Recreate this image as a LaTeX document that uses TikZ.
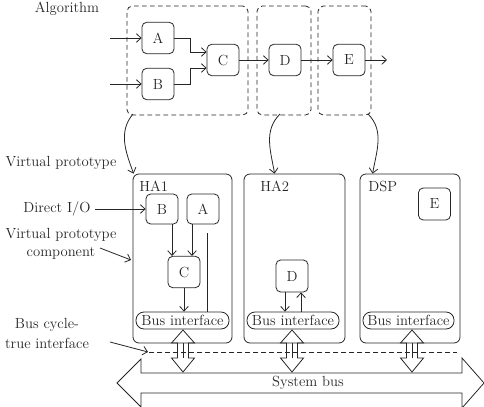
\documentclass[tikz,border=0pt]{standalone}
\usetikzlibrary{arrows.meta}

\begin{document}
\begin{tikzpicture}[x=0.75pt, y=-0.75pt, line width=0.6pt, color=black!85,
    >={Straight Barb[length=3.5pt,width=6.5pt]},
    every node/.style={font=\fontsize{11}{13.5}\selectfont},
    blk/.style={draw, rounded corners=3.5pt, minimum width=24pt,
                minimum height=23.5pt, inner sep=0pt},
    grp/.style={draw, dash pattern=on 3.5pt off 2.5pt, rounded corners=4pt,
                minimum height=81.75pt, inner sep=0pt},
    unit/.style={draw, rounded corners=4.5pt, minimum height=126.75pt, inner sep=0pt},
    bif/.style={draw, rounded corners=6pt, minimum height=12.75pt, inner sep=0pt},
    ttl/.style={anchor=west, inner sep=0pt}]
    \useasboundingbox (0,0) rectangle (484,406);
    % --- algorithm level: data flow A,B -> C -> D -> E
    \node (alg) at (67,9) {Algorithm};
    \node[grp, minimum width=90.75pt] (g1) at (187.5,60.5) {};
    \node[grp, minimum width=40.5pt]  (g2) at (284,60.5) {};
    \node[grp, minimum width=39.75pt] (g3) at (344.5,60.5) {};
    \node[blk] (a1) at (158,38) {A};
    \node[blk] (b1) at (158,84) {B};
    \node[blk] (c1) at (223,60) {C};
    \node[blk] (d1) at (285,60) {D};
    \node[blk] (e1) at (349,60) {E};
    \coordinate (ina) at (110,38);
    \coordinate (inb) at (110,84);
    \coordinate (out) at (387,60);
    \draw[->] (ina) -- (a1);
    \draw[->] (inb) -- (b1);
    \draw[->] (a1.east) -- ++(16,0) |- ([yshift=6pt]c1.west);
    \draw[->] (b1.east) -- ++(16,0) |- ([yshift=-6pt]c1.west);
    \draw[->] (c1) -- (d1);
    \draw[->] (d1) -- (e1);
    \draw[->] (e1) -- (out);
    % --- virtual prototype: the three units
    \node (vp) at (61,163) {Virtual prototype};
    \node[unit, minimum width=74.25pt] (h1) at (182.5,258.5) {};
    \node[unit, minimum width=75.75pt] (h2) at (294.5,258.5) {};
    \node[unit, minimum width=75pt]    (h3) at (410,258.5) {};
    \node[ttl] (t1) at (139,186) {HA1};
    \node[ttl] (t2) at (260,186) {HA2};
    \node[ttl] (t3) at (368,186) {DSP};
    % --- mapping of the algorithm parts onto the units
    \coordinate (s1) at (133,114);
    \coordinate (s2) at (280,114);
    \coordinate (s3) at (368,114);
    \draw[->] (s1) to[out=-130, in=110] ([xshift=0.75pt]h1.north west);
    \draw[->] (s2) to[out=-135, in=100] ([xshift=23.25pt]h2.north west);
    \draw[->] (s3) to[out=-45, in=80] ([xshift=9.75pt]h3.north west);
    % --- HA1
    \node[blk, minimum height=22.5pt] (b2) at (162,209) {B};
    \node[blk, minimum height=22.5pt] (a2) at (203,209) {A};
    \node[blk] (c2) at (184,272) {C};
    \node[bif, minimum width=69.75pt] (bi1) at (182.5,320.5) {Bus interface};
    \draw[->] ([xshift=7.5pt]b2.south) -- ([xshift=7.5pt]b2.south |- c2.north);
    \draw[->] ([xshift=-8.25pt]a2.south) -- ([xshift=-8.25pt]a2.south |- c2.north);
    \draw[->] (c2) -- (c2 |- bi1.north);
    \coordinate (a2o) at (207,233);
    \draw (a2o) -- (a2o |- bi1.north);
    % --- HA2
    \node[blk, minimum height=24pt] (d2) at (292,276) {D};
    \node[bif, minimum width=69pt] (bi2) at (293,320.5) {Bus interface};
    \draw[->] ([xshift=-5.25pt]d2.south) -- ([xshift=-5.25pt]d2.south |- bi2.north);
    \draw[->] ([xshift=6.75pt]d2.south |- bi2.north) -- ([xshift=6.75pt]d2.south);
    % --- DSP
    \node[blk, minimum height=24pt] (e2) at (434.5,204) {E};
    \node[bif, minimum width=68.25pt] (bi3) at (408.5,320.5) {Bus interface};
    % --- left hand labels
    \node (dio) at (57,209) {Direct I/O};
    \draw[->] (dio) -- (b2);
    \node[align=center] (vpc) at (61,244) {Virtual prototype\\component};
    \coordinate (vpce) at (100,248);
    \coordinate (vpct) at (131,260);
    \draw[->] (vpce) -- (vpct);
    \node[align=center] (bct) at (47,333) {Bus cycle-\\[1.5pt]true interface};
    \coordinate (bcte) at (110,342);
    \coordinate (bctt) at (148,352);
    \draw[->] (bcte) -- (bctt);
    % --- bus cycle-true interface and system bus
    \coordinate (dl) at (149,352);
    \coordinate (dr) at (457,352);
    \draw[dash pattern=on 3.5pt off 2.5pt] (dl) -- (dr);
    \draw (183,330) -- ++(11.5,13) -- ++(-6,0) -- ++(0,15) -- ++(6,0) -- ++(-11.5,14)
          -- ++(-11.5,-14) -- ++(6,0) -- ++(0,-15) -- ++(-6,0) -- cycle;
    \draw (183,343) -- (183,358);
    \draw (292,330) -- ++(11.5,13) -- ++(-6,0) -- ++(0,15) -- ++(6,0) -- ++(-11.5,14)
          -- ++(-11.5,-14) -- ++(6,0) -- ++(0,-15) -- ++(-6,0) -- cycle;
    \draw (292,343) -- (292,358);
    \draw (412,330) -- ++(11.5,13) -- ++(-6,0) -- ++(0,15) -- ++(6,0) -- ++(-11.5,14)
          -- ++(-11.5,-14) -- ++(6,0) -- ++(0,-15) -- ++(-6,0) -- cycle;
    \draw (412,343) -- (412,358);
    \draw (117,383) -- (141,359) -- (141,373) -- (462,373) -- (462,358) -- (484,383)
          -- (462,408) -- (462,393) -- (141,393) -- (141,407) -- cycle;
    \node (sb) at (308,383) {System bus};
\end{tikzpicture}
\end{document}
